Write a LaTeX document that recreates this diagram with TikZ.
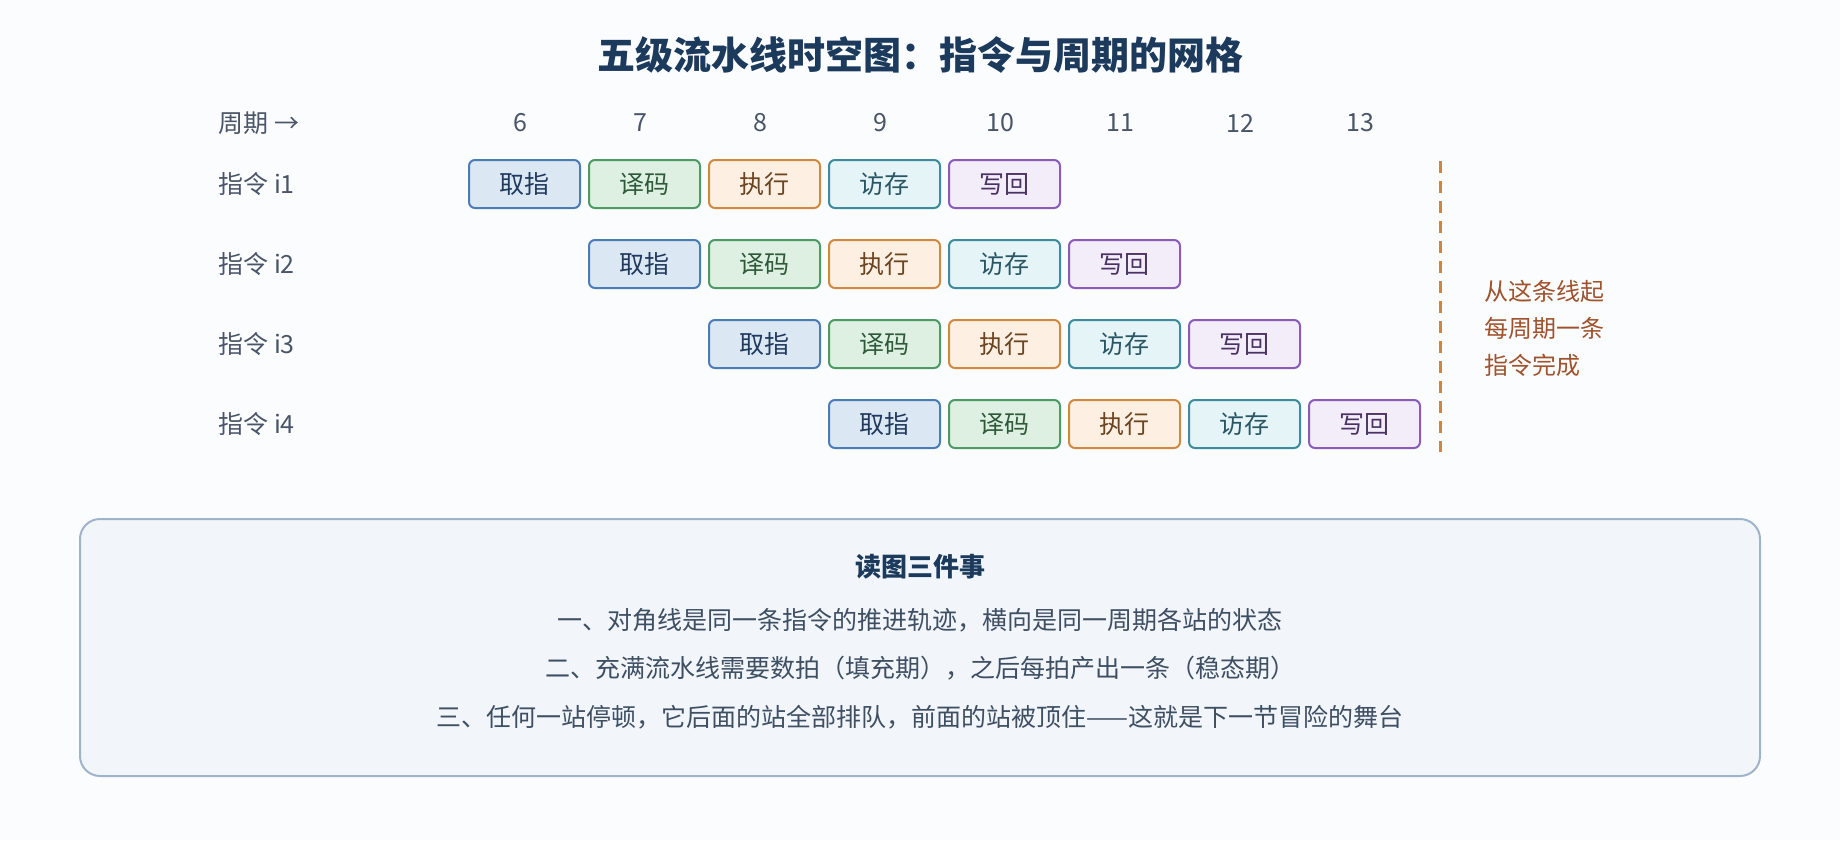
\documentclass[tikz,border=0pt]{standalone}
\usepackage{fontspec}
\setmainfont{Noto Sans CJK SC}
\usetikzlibrary{positioning}

\definecolor{bgc}{HTML}{FBFCFE}
\definecolor{titlec}{HTML}{1B3A5C}
\definecolor{labelc}{HTML}{4A5568}
\definecolor{bodyc}{HTML}{3E4F63}
\definecolor{ifF}{HTML}{DCE7F4}\definecolor{ifD}{HTML}{4A7DB5}\definecolor{ifT}{HTML}{1F3A5C}
\definecolor{idF}{HTML}{DEF0E2}\definecolor{idD}{HTML}{4E9A64}\definecolor{idT}{HTML}{2E5A3A}
\definecolor{exF}{HTML}{FDF0E3}\definecolor{exD}{HTML}{CF8A40}\definecolor{exT}{HTML}{6B4420}
\definecolor{memF}{HTML}{E5F4F7}\definecolor{memD}{HTML}{3B8C9C}\definecolor{memT}{HTML}{2A5663}
\definecolor{wbF}{HTML}{F3ECF9}\definecolor{wbD}{HTML}{8A5CB8}\definecolor{wbT}{HTML}{4A3266}
\definecolor{markc}{HTML}{CD8540}
\definecolor{notec}{HTML}{A0522D}
\definecolor{panelF}{HTML}{F2F5F9}\definecolor{panelD}{HTML}{9FB4CA}

\tikzset{
  stagebox/.style={draw, line width=1pt, rounded corners=3pt, minimum width=55.5pt,
    minimum height=24pt, inner sep=0pt, font=\fontsize{12.5}{15}\selectfont},
  ifbox/.style={stagebox, fill=ifF, draw=ifD, text=ifT},
  idbox/.style={stagebox, fill=idF, draw=idD, text=idT},
  exbox/.style={stagebox, fill=exF, draw=exD, text=exT},
  membox/.style={stagebox, fill=memF, draw=memD, text=memT},
  wbbox/.style={stagebox, fill=wbF, draw=wbD, text=wbT},
  rowlabel/.style={anchor=west, inner sep=0pt, text=labelc, font=\fontsize{12.5}{15}\selectfont},
  cyclenum/.style={inner sep=0pt, text=labelc, font=\fontsize{12.5}{15}\selectfont},
  bodyline/.style={inner sep=0pt, text=bodyc, font=\fontsize{12.5}{15}\selectfont}
}

\begin{document}
\begin{tikzpicture}[x=0.5pt, y=-0.5pt]
   \fill[bgc] (0,0) rectangle (1840,840);
   \useasboundingbox (0,0) rectangle (1840,840);

   \node (title) [text=titlec, font=\fontsize{19}{22}\bfseries] at (920,55)
     {五级流水线时空图：指令与周期的网格};

   % cycle axis
   \node (axis) [rowlabel] at (218,123) {周期 →};
   \foreach \c [count=\i from 0] in {6,...,13}
     \node (C\c) [cyclenum] at ({520+120*\i},123) {\c};

   % instructions
   \foreach \r in {1,...,4} {
     \node (L\r) [rowlabel] at (218,{104+80*\r}) {指令 i\r};
     \foreach \s/\t [count=\k from 0] in {ifbox/取指, idbox/译码, exbox/执行, membox/访存, wbbox/写回}
       \node (S\r\k) [\s] at ({524.5+120*(\r-1+\k)},{104+80*\r}) {\t};
   }

   % steady state marker
   \coordinate (mtop) at (1440,161);
   \coordinate (mbot) at (1440,452);
   \draw[markc, line width=1.5pt, dash pattern=on 6pt off 4pt] (mtop) -- (mbot);
   \node (note) [anchor=west, inner sep=0pt, align=left, text=notec,
     font=\fontsize{12}{18.5}\selectfont] at (1484,328)
     {从这条线起\\每周期一条\\指令完成};

   % reading notes
   \node (panel) [draw=panelD, fill=panelF, line width=1pt, rounded corners=10pt,
     minimum width=840pt, minimum height=128.5pt] at (920,647.5) {};
   \node (head) [inner sep=0pt, text=titlec, font=\fontsize{13}{15}\bfseries] at (920,567) {读图三件事};
   \node (n1) [bodyline] at (920,620) {一、对角线是同一条指令的推进轨迹，横向是同一周期各站的状态};
   \node (n2) [bodyline] at (920,668) {二、充满流水线需要数拍（填充期），之后每拍产出一条（稳态期）};
   \node (n3) [bodyline] at (920,717) {三、任何一站停顿，它后面的站全部排队，前面的站被顶住——这就是下一节冒险的舞台};
\end{tikzpicture}
\end{document}
